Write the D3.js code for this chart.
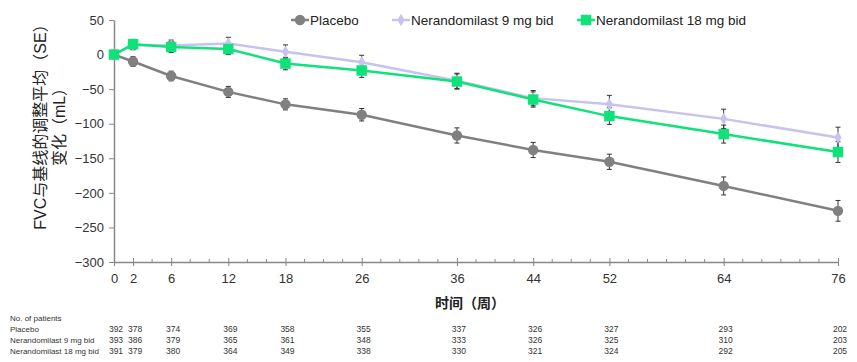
<!DOCTYPE html>
<html>
<head>
<meta charset="utf-8">
<script src="https://cdn.jsdelivr.net/npm/d3@7"></script>
<style>
  body { margin: 0; background: #fff; }
  text { font-family: "Liberation Sans", "Noto Sans CJK SC", sans-serif; }
</style>
</head>
<body>
<svg id="chart"></svg>
<script>
const weeks = [0, 2, 6, 12, 18, 26, 36, 44, 52, 64, 76];

const placebo = [0, -10, -31, -54, -72, -87, -117, -138, -155, -190, -226];
const placeboSE = [0, 7, 7, 8, 8, 9, 11, 11, 11, 13, 15];
const nera9 = [0, 14, 13, 16, 4, -11, -38, -63, -72, -93, -120];
const nera9SE = [0, 7, 8, 9, 10, 10, 11, 11, 13, 14, 15];
const nera18 = [0, 15, 11, 8, -13, -23, -39, -65, -89, -115, -141];
const nera18SE = [0, 7, 8, 8, 9, 10, 11, 11, 12, 13, 15];

const yTicks = [50, 0, -50, -100, -150, -200, -250, -300];

const seriesNames = ["Placebo", "Nerandomilast 9 mg bid", "Nerandomilast 18 mg bid"];
const nPlacebo = [392, 378, 374, 369, 358, 355, 337, 326, 327, 293, 202];
const nNera9 = [393, 386, 379, 365, 361, 348, 333, 326, 325, 310, 203];
const nNera18 = [391, 379, 380, 364, 349, 338, 330, 321, 324, 292, 205];

const width = 857;
const height = 362;

const svg = d3.select("#chart")
    .attr("width", width)
    .attr("height", height);

const x = d3.scaleLinear()
    .domain([0, 76])
    .range([114, 838]);

const y = d3.scaleLinear()
    .domain([-300, 50])
    .range([262, 20]);

const series = [
    { name: seriesNames[0], values: placebo, se: placeboSE, color: "#808080", shape: "circle" },
    { name: seriesNames[1], values: nera9, se: nera9SE, color: "#c8c2ee", shape: "diamond" },
    { name: seriesNames[2], values: nera18, se: nera18SE, color: "#10e27a", shape: "square" }
];

function symbolFor(shape) {
    if (shape === "circle") return d3.symbol().type(d3.symbolCircle).size(85);
    if (shape === "diamond") return d3.symbol().type(d3.symbolDiamond).size(45);
    return d3.symbol().type(d3.symbolSquare).size(110);
}

// Y-Axis
const yAxis = svg.append("g")
    .attr("transform", `translate(${x(0)},0)`)
    .call(d3.axisLeft(y).tickValues(yTicks).tickSize(5).tickSizeOuter(0));
yAxis.select(".domain").attr("stroke", "#888").attr("stroke-width", 1.5);
yAxis.selectAll(".tick line").attr("stroke", "#888");
yAxis.selectAll("text").attr("font-size", "13px").attr("fill", "#333").attr("dx", "-2");

// X-Axis minor ticks
const minor = d3.range(0, 77, 2).filter(w => weeks.indexOf(w) < 0);
svg.append("g")
    .selectAll("line")
    .data(minor)
    .join("line")
    .attr("x1", d => x(d)).attr("x2", d => x(d))
    .attr("y1", y(-300)).attr("y2", y(-300) - 3)
    .attr("stroke", "#888");

// X-Axis
const xAxis = svg.append("g")
    .attr("transform", `translate(0,${y(-300)})`)
    .call(d3.axisBottom(x).tickValues(weeks).tickSize(4).tickSizeOuter(0));
xAxis.select(".domain").attr("stroke", "#888").attr("stroke-width", 1.5);
xAxis.selectAll(".tick line").attr("stroke", "#888").attr("y1", -4);
xAxis.selectAll("text").attr("font-size", "13px").attr("fill", "#333").attr("dy", "1.1em");

// axis titles
svg.append("text")
    .attr("x", 470)
    .attr("y", 308)
    .attr("text-anchor", "middle")
    .attr("font-size", "14px")
    .attr("font-weight", "bold")
    .attr("fill", "#222")
    .text("时间（周）");

const yTitle = svg.append("text")
    .attr("transform", "translate(46,123) rotate(-90)")
    .attr("text-anchor", "middle")
    .attr("font-size", "16px")
    .attr("fill", "#222");
yTitle.append("tspan").attr("x", 0).attr("dy", 0).text("FVC与基线的调整平均（SE）");
yTitle.append("tspan").attr("x", 0).attr("dy", 19).text("变化（mL）");

// error bars
series.forEach(s => {
    const g = svg.append("g").attr("stroke", "#333").attr("stroke-width", 1);
    const pts = weeks.map((w, i) => ({ w: w, v: s.values[i], e: s.se[i] })).filter(d => d.e > 0);
    g.selectAll(".bar")
        .data(pts)
        .join("line")
        .attr("x1", d => x(d.w)).attr("x2", d => x(d.w))
        .attr("y1", d => y(d.v + d.e)).attr("y2", d => y(d.v - d.e));
    g.selectAll(".capTop")
        .data(pts)
        .join("line")
        .attr("class", "capTop")
        .attr("x1", d => x(d.w) - 2.5).attr("x2", d => x(d.w) + 2.5)
        .attr("y1", d => y(d.v + d.e)).attr("y2", d => y(d.v + d.e));
    g.selectAll(".capBot")
        .data(pts)
        .join("line")
        .attr("class", "capBot")
        .attr("x1", d => x(d.w) - 2.5).attr("x2", d => x(d.w) + 2.5)
        .attr("y1", d => y(d.v - d.e)).attr("y2", d => y(d.v - d.e));
});

// lines + markers
const line = d3.line()
    .x((d, i) => x(weeks[i]))
    .y(d => y(d));

series.forEach(s => {
    svg.append("path")
        .datum(s.values)
        .attr("d", line)
        .attr("fill", "none")
        .attr("stroke", s.color)
        .attr("stroke-width", 2.5);

    svg.append("g")
        .selectAll("path")
        .data(s.values)
        .join("path")
        .attr("transform", (d, i) => `translate(${x(weeks[i])},${y(d)})`)
        .attr("d", symbolFor(s.shape)())
        .attr("fill", s.color);
});

// legend
const legendX = [291, 392, 577];
series.forEach((s, i) => {
    const g = svg.append("g").attr("transform", `translate(${legendX[i]},20)`);
    g.append("line")
        .attr("x1", 0).attr("x2", 18)
        .attr("stroke", s.color)
        .attr("stroke-width", 2.5);
    g.append("path")
        .attr("transform", "translate(9,0)")
        .attr("d", symbolFor(s.shape)())
        .attr("fill", s.color);
    g.append("text")
        .attr("x", 19)
        .attr("y", 5)
        .attr("font-size", "13.5px")
        .attr("fill", "#222")
        .text(s.name);
});

// patient table
const table = svg.append("g").attr("font-size", "8.5px").attr("fill", "#333");
table.append("text").attr("x", 10).attr("y", 321).attr("font-size", "8px").text("No. of patients");
const rows = [nPlacebo, nNera9, nNera18];
rows.forEach((r, i) => {
    const ry = 332 + i * 11;
    table.append("text").attr("x", 10).attr("y", ry).attr("font-size", "8px").text(seriesNames[i]);
    table.selectAll(".n" + i)
        .data(r)
        .join("text")
        .attr("class", "n" + i)
        .attr("x", (d, j) => x(weeks[j]) + 2)
        .attr("y", ry)
        .attr("text-anchor", "middle")
        .text(d => d);
});
</script>
</body>
</html>
